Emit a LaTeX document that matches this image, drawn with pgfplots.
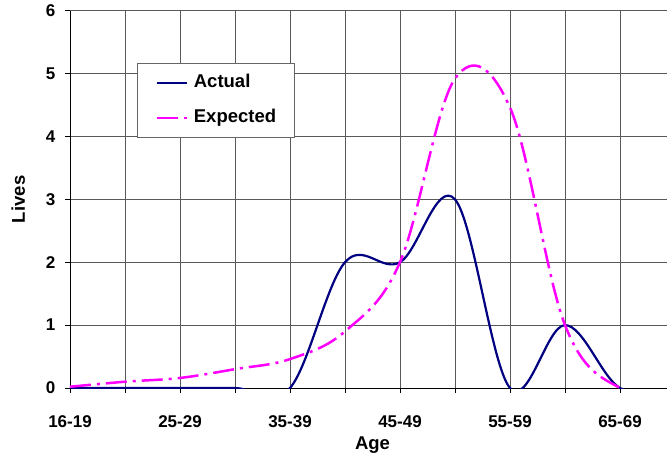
\documentclass[border=0pt]{standalone}
\usepackage{pgfplots}
\pgfplotsset{compat=1.18}
\usepackage{fontspec}
\setmainfont{Liberation Sans}
\definecolor{actual}{RGB}{0,0,128}
\definecolor{expected}{RGB}{255,0,255}
\begin{document}
\begin{tikzpicture}
\useasboundingbox (-70pt,-71pt) rectangle (597pt,388pt);
\begin{axis}[
  at={(0pt,0pt)}, anchor=south west,
  scale only axis,
  width=605pt, height=377.3pt,
  xmin=0, xmax=11, ymin=0, ymax=6,
  axis lines*=left,
  axis line style={black, line width=0.8pt},
  xtick={0,...,11},
  xticklabels={16-19,,25-29,,35-39,,45-49,,55-59,,65-69,},
  ytick={0,...,6},
  tick align=outside,
  major tick length=5pt,
  tick style={black, line width=0.8pt},
  grid=major,
  major grid style={black!65, line width=0.7pt},
  /pgf/number format/assume math mode=true,
  ticklabel style={font=\fontsize{17}{17}\selectfont\bfseries},
  xticklabel style={anchor=base, inner sep=0pt, yshift=-34pt},
  yticklabel style={anchor=east, inner sep=0pt, xshift=-9.5pt},
  xlabel={Age}, ylabel={Lives},
  label style={font=\fontsize{18.5}{18.5}\selectfont\bfseries},
  xlabel style={at={(axis description cs:0.5,-0.162)}, anchor=base, inner sep=0pt},
  ylabel style={at={(axis description cs:-0.0744,0.5)}, anchor=base, inner sep=0pt},
  legend style={at={(axis description cs:0.1107,0.8614)}, anchor=north west,
    draw=black!60, line width=0.8pt, fill=white,
    inner xsep=18pt, inner ysep=11pt, row sep=18pt, column sep=6pt,
    nodes={inner sep=0pt, text height=13pt, text depth=4pt},
    font=\fontsize{18.5}{18.5}\selectfont\bfseries},
  legend cell align=left,
  legend image code/.code={\draw[#1] (0pt,0pt) -- (30pt,0pt);},
]
\addplot[actual, line width=2.2pt, smooth, tension=0.6] coordinates {
  (0,0) (1,0) (2,0) (3,0) (4,0) (5,2.0) (6,2.0) (7,3.0) (8,0) (9,1.0) (10,0) (11,0)
};
\addlegendentry{Actual}
\addplot[expected, line width=2.5pt, smooth, tension=0.6, dash pattern=on 21pt off 6pt on 3pt off 6pt] coordinates {
  (0,0.02) (1,0.1) (2,0.16) (3,0.3) (4,0.46) (5,0.9) (6,2.0) (7,4.92) (8,4.46) (9,1.0) (10,0) (11,0)
};
\addlegendentry{Expected}
\end{axis}
\end{tikzpicture}
\end{document}
